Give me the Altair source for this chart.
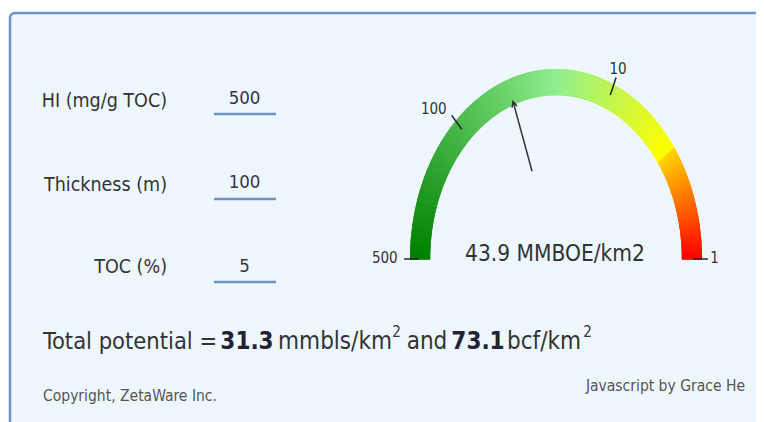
import math
import altair as alt
import pandas as pd

# ---------------- data ----------------
form_labels = ["HI (mg/g TOC)", "Thickness (m)", "TOC (%)"]
form_values = ["500", "100", "5"]

gauge_min = 1
gauge_max = 500
gauge_value = 43.9
gauge_unit = "MMBOE/km2"
tick_values = [500, 100, 10, 1]
tick_labels = ["500", "100", "10", "1"]
color_stops = [0, 0.5, 0.8, 0.8001, 1]
color_range = ["#008000", "#90EE90", "#FFFF00", "#FFD700", "#FF0000"]

oil_potential = 31.3
gas_potential = 73.1
copyright_text = "Copyright, ZetaWare Inc."
credit_text = "Javascript by Grace He"

# ---------------- layout ----------------
W, H = 748, 414
OFF = 8  # page margin
FONT = "DejaVu Sans Condensed, Liberation Sans, Arial, sans-serif"
TXT = "#333333"

# gauge placement (picture pixels)
CX, CY, RX, RY = 556, 259, 146, 190
R_IN, R_OUT = 0.862, 1.0
x_dom = [-(CX - OFF) / RX, (W - (CX - OFF)) / RX]
y_dom = [-(H - (CY - OFF)) / RY, (CY - OFF) / RY]
xs = alt.Scale(domain=x_dom, nice=False, zero=False)
ys = alt.Scale(domain=y_dom, nice=False, zero=False)

LMAX = math.log(gauge_max)
LSPAN = math.log(gauge_max) - math.log(gauge_min)
theta_expr = f"PI * (1 - ({LMAX} - log(datum.value)) / {LSPAN})"


def txt(s, x, y, size, align="left", weight="normal", color=TXT, baseline="alphabetic"):
    return alt.Chart(alt.Data(values=[{"t": s}])).mark_text(
        align=align, baseline=baseline, font=FONT, fontSize=size,
        fontWeight=weight, color=color
    ).encode(x=alt.value(x - OFF), y=alt.value(y - OFF), text="t:N")


layers = []

# panel background with border
layers.append(
    alt.Chart(alt.Data(values=[{}])).mark_rect(
        fill="#EEF7FD", stroke="#6F93C3", strokeWidth=2.5, cornerRadius=5
    ).encode(x=alt.value(10 - OFF), x2=alt.value(W + 60),
             y=alt.value(13 - OFF), y2=alt.value(H + 60))
)

# form rows
label_base = [106.5, 190.5, 273]
value_base = [104, 188, 271.5]
line_y = [114, 199, 282]
for lab, val, lb, vb, ly in zip(form_labels, form_values, label_base, value_base, line_y):
    layers.append(txt(lab, 167, lb, 19.5, align="right"))
    layers.append(txt(val, 244.5, vb, 18.5, align="center", color="#33334A"))
    layers.append(
        alt.Chart(alt.Data(values=[{}])).mark_rule(color="#6F93C3", strokeWidth=2.5)
        .encode(x=alt.value(214 - OFF), x2=alt.value(276 - OFF), y=alt.value(ly - OFF))
    )

# gauge band (radial strokes coloured through a piecewise colour scale)
band = alt.Chart(alt.sequence(start=0, stop=1.0001, step=0.00125, as_="t")).transform_calculate(
    th="PI * (1 - datum.t)",
    xi=f"{R_IN} * cos(datum.th)", yi=f"{R_IN} * sin(datum.th)",
    xo=f"{R_OUT} * cos(datum.th)", yo=f"{R_OUT} * sin(datum.th)",
).mark_rule(strokeWidth=1.6, strokeCap="butt").encode(
    x=alt.X("xi:Q", scale=xs, axis=None),
    y=alt.Y("yi:Q", scale=ys, axis=None),
    x2="xo:Q", y2="yo:Q",
    color=alt.Color("t:Q", scale=alt.Scale(domain=color_stops, range=color_range, interpolate="rgb"),
                    legend=None),
)
layers.append(band)

# ticks
ticks_df = pd.DataFrame({"value": tick_values, "label": tick_labels})
ticks = alt.Chart(ticks_df).transform_calculate(
    th=theta_expr,
    xa="0.94 * cos(datum.th)", ya="0.94 * sin(datum.th)",
    xb="1.04 * cos(datum.th)", yb="1.04 * sin(datum.th)",
).mark_rule(color="#222222", strokeWidth=1.5).encode(
    x=alt.X("xa:Q", scale=xs, axis=None), y=alt.Y("ya:Q", scale=ys, axis=None),
    x2="xb:Q", y2="yb:Q",
)
layers.append(ticks)

# tick labels (placement per label)
label_place = {"500": ("right", -6.5, -1), "100": ("right", -5, -6),
               "10": ("center", 2, -9), "1": ("left", 2.5, -1)}
for v, lab in zip(tick_values, tick_labels):
    al, dx, dy = label_place[lab]
    layers.append(
        alt.Chart(pd.DataFrame({"value": [v], "label": [lab]})).transform_calculate(
            th=theta_expr,
            xb="1.04 * cos(datum.th)", yb="1.04 * sin(datum.th)",
        ).mark_text(align=al, baseline="middle", dx=dx, dy=dy, font=FONT, fontSize=15, color=TXT)
        .encode(x=alt.X("xb:Q", scale=xs, axis=None), y=alt.Y("yb:Q", scale=ys, axis=None),
                text="label:N")
    )

# needle
needle_df = pd.DataFrame({"value": [gauge_value]})
needle = alt.Chart(needle_df).transform_calculate(
    th=theta_expr,
    xa="0.49 * cos(datum.th)", ya="0.49 * sin(datum.th)",
    xb="0.88 * cos(datum.th)", yb="0.88 * sin(datum.th)",
    rot=f"(atan2(cos(datum.th) * {RX}, sin(datum.th) * {RY}) * 180 / PI + 360) % 360",
)
layers.append(
    needle.mark_rule(color="#333333", strokeWidth=1.5).encode(
        x=alt.X("xa:Q", scale=xs, axis=None), y=alt.Y("ya:Q", scale=ys, axis=None),
        x2="xb:Q", y2="yb:Q")
)
layers.append(
    needle.mark_point(shape="M-0.45,1 L0,0 L0.45,1", filled=False, stroke="#333333",
                      strokeWidth=1.5, size=130, opacity=1).encode(
        x=alt.X("xb:Q", scale=xs, axis=None), y=alt.Y("yb:Q", scale=ys, axis=None),
        angle=alt.Angle("rot:Q", scale=None))
)

# gauge readout
layers.append(txt(f"{gauge_value} {gauge_unit}", 555, 260.5, 22.5, align="center"))

# total potential line
layers.append(txt("Total potential =", 43, 349, 23.5))
layers.append(txt(f"{oil_potential}", 247, 349, 24, align="center", weight="bold", color="#222233"))
layers.append(txt("mmbls/km", 335, 349, 24, align="center"))
layers.append(txt("2", 396.5, 337, 15, align="center"))
layers.append(txt("and", 427, 349, 24, align="center"))
layers.append(txt(f"{gas_potential}", 478, 349, 24, align="center", weight="bold", color="#222233"))
layers.append(txt("bcf/km", 544, 349, 24, align="center"))
layers.append(txt("2", 587.5, 337, 15, align="center"))

# footer
layers.append(txt(copyright_text, 43, 401, 15.5, color="#555555"))
layers.append(txt(credit_text, 745, 391, 15.5, align="right", color="#555555"))

chart = alt.layer(*layers).properties(
    width=W, height=H, padding=0, autosize="none", background="white"
).configure_view(stroke=None)

chart.save("out.html", embed_options={"renderer": "svg", "actions": False})
